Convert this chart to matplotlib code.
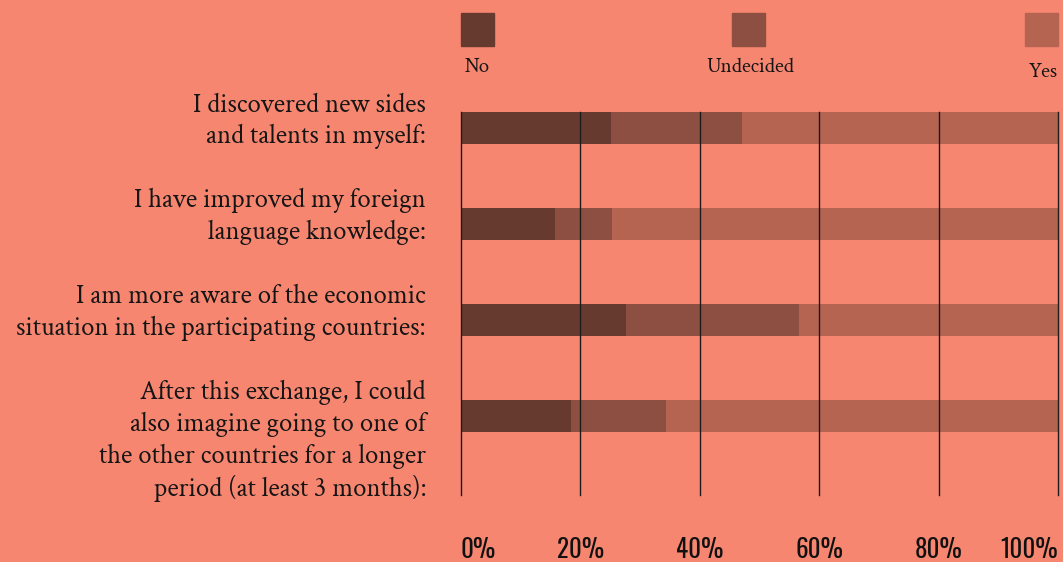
import matplotlib
matplotlib.use("Agg")
import numpy as np
import matplotlib.pyplot as plt
from matplotlib.patches import Rectangle

# survey statements (top to bottom)
statements = [
    "I discovered new sides\nand talents in myself:",
    "I have improved my foreign\nlanguage knowledge:",
    "I am more aware of the economic\nsituation in the participating countries:",
    "After this exchange, I could\nalso imagine going to one of\nthe other countries for a longer\nperiod (at least 3 months):",
]
answers = ["No", "Undecided", "Yes"]
no_pct = [25.1, 15.7, 27.7, 18.5]
undecided_pct = [22.0, 9.6, 28.9, 15.8]
yes_pct = [52.9, 74.7, 43.4, 65.7]
tick_vals = [0, 20, 40, 60, 80, 100]
tick_labels = ["0%", "20%", "40%", "60%", "80%", "100%"]

bg = "#F68670"
colors = ["#673A30", "#8C4F41", "#B56452"]
serif = ["Crimson Text", "Liberation Serif", "DejaVu Serif"]
cond = ["Oswald", "DejaVu Sans"]

W, H = 1063, 562
fig = plt.figure(figsize=(W / 100, H / 100), dpi=100, facecolor=bg)

# axes box in pixels: x 461..1058, y 112..495
ax = fig.add_axes([461 / W, 1 - 495 / H, (1058 - 461) / W, (495 - 112) / H])
ax.set_facecolor(bg)

ypos = np.arange(len(statements))
bar_h = 1 / 3
left = np.zeros(len(statements))
for vals, c in zip([no_pct, undecided_pct, yes_pct], colors):
    ax.barh(ypos, vals, left=left, height=bar_h, color=c, zorder=2)
    left += np.array(vals)

for t in tick_vals:
    ax.axvline(t, color="#1c1c1c", lw=1, zorder=3, clip_on=False)

ax.set_xlim(0, 100)
ax.set_ylim((495 - 128) / 96, -1 / 6)
for s in ax.spines.values():
    s.set_visible(False)
ax.set_yticks([])
ax.set_xticks(tick_vals)
ax.set_xticklabels(tick_labels, fontsize=18, family=cond, color="#111111")
ax.tick_params(axis="x", length=0, pad=30)
labs = ax.get_xticklabels()
labs[0].set_ha("left")
labs[-1].set_ha("right")

# statement labels, right aligned left of the axis
for i, s in enumerate(statements):
    ax.annotate(s, xy=(0, i - bar_h / 2), xytext=(-35, 20), textcoords="offset pixels",
                ha="right", va="top", fontsize=19.2, family=serif,
                color="#151515", linespacing=1.33, annotation_clip=False)

# legend: squares with labels below
leg_sq = [(461, 13), (732, 13), (1025, 13)]
leg_txt = [(477.5, 67), (750, 67), (1043, 72)]
for (x0, y0), (tx, ty), lab, c in zip(leg_sq, leg_txt, answers, colors):
    fig.patches.append(Rectangle((x0 / W, 1 - (y0 + 33) / H), 33 / W, 33 / H,
                                 transform=fig.transFigure, color=c))
    fig.text(tx / W, 1 - ty / H, lab, ha="center", va="center", fontsize=15,
             family=serif, color="#151515")

fig.savefig("out.png", dpi=100, facecolor=bg)
